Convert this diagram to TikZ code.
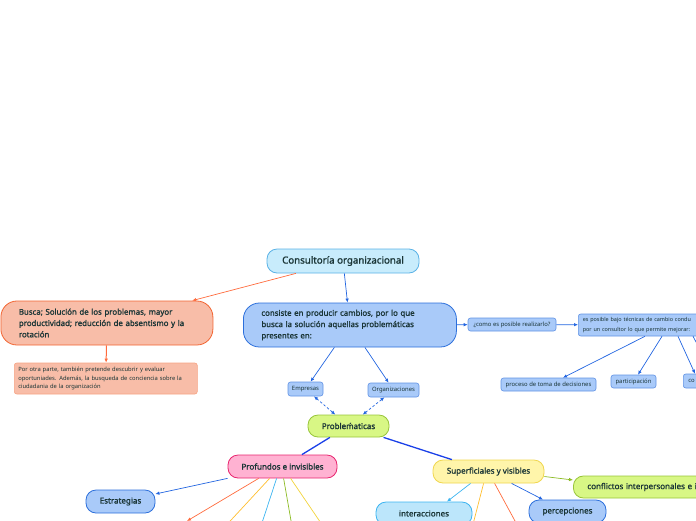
\documentclass[tikz,border=0pt]{standalone}
\usepackage{fontspec}
\setmainfont{Noto Sans}[BoldFont={Noto Sans},BoldFeatures={FakeBold=1.4}]
\usetikzlibrary{arrows.meta}

\definecolor{ink}{HTML}{1A3536}
\definecolor{titlefill}{HTML}{C8ECFC}
\definecolor{titleline}{HTML}{5AB2E6}
\definecolor{salmonfill}{HTML}{F8BDA8}
\definecolor{salmonline}{HTML}{F26532}
\definecolor{salmonlight}{HTML}{F6A484}
\definecolor{bluefill}{HTML}{A9CAF9}
\definecolor{blueline}{HTML}{2C6FDB}
\definecolor{limefill}{HTML}{D8F785}
\definecolor{limeline}{HTML}{98C53A}
\definecolor{pinkfill}{HTML}{FFB2D2}
\definecolor{pinkline}{HTML}{E8256F}
\definecolor{yellowfill}{HTML}{FFF5AA}
\definecolor{yellowline}{HTML}{F0D64E}
\definecolor{cyanfill}{HTML}{BCE6FB}
\definecolor{cyanline}{HTML}{3CB4F0}
\definecolor{orangeline}{HTML}{FF6B3D}
\definecolor{amberline}{HTML}{FFBE2E}
\definecolor{greenline}{HTML}{8CBB24}
\definecolor{goldline}{HTML}{F2D33A}
\definecolor{linkblue}{HTML}{2265E0}
\definecolor{deepblue}{HTML}{1A40E8}

\begin{document}
\begin{tikzpicture}[x=1pt,y=-1pt,>={Latex[length=4pt,width=3.5pt]},
  topic/.style={draw,line width=0.8pt,rounded corners=10pt,inner sep=0pt,text=ink,
    font=\fontsize{8}{11.3}\selectfont\bfseries},
  leaf/.style={draw=blueline!75,fill=bluefill,line width=0.6pt,rounded corners=2.5pt,
    inner sep=0pt,text=ink,font=\fontsize{5.9}{9.5}\selectfont},
  link/.style={->,line width=0.7pt,linkblue},
  twoway/.style={<->,line width=0.7pt,linkblue,dash pattern=on 2.5pt off 2pt},
  trunk/.style={line width=1.3pt,deepblue}]
  \useasboundingbox (0,0) rectangle (696,520);
  \clip (0,0) rectangle (696,520);
  % main topics
  \node[topic,fill=titlefill,draw=titleline,minimum width=152pt,minimum height=24pt,
    font=\fontsize{9.7}{11}\selectfont\bfseries] (consultoria) at (343,261) {Consultoría organizacional};
  \node[topic,fill=salmonfill,draw=salmonline,anchor=west,text width=176pt,align=left,
    inner xsep=18pt,minimum height=44pt,rounded corners=16pt,font=\fontsize{7.85}{11.3}\selectfont\bfseries] (busca) at (0.5,323)
    {Busca; Solución de los problemas, mayor\\productividad; reducción de absentismo y la\\rotación};
  \node[leaf,fill=salmonfill,draw=salmonlight,anchor=west,text width=175pt,align=left,
    inner xsep=4pt,minimum height=31pt,font=\fontsize{5.8}{8.6}\selectfont] (porotra) at (14,378.5)
    {Por otra parte, también pretende descubrir y evaluar\\oportuniades. Además, la busqueda de conciencia sobre la\\ciudadania de la organización};
  \node[topic,fill=bluefill,draw=blueline,anchor=west,text width=177pt,align=left,
    inner xsep=18pt,minimum height=44pt,rounded corners=16pt,font=\fontsize{7.85}{11.3}\selectfont\bfseries] (consiste) at (243,325)
    {consiste en producir cambios, por lo que\\busca la solución aquellas problemáticas\\presentes en:};
  % how
  \node[leaf,minimum width=88pt,minimum height=13pt] (como) at (512,324.5) {¿como es posible realizarlo?};
  \node[leaf,anchor=west,text width=160pt,align=left,inner xsep=4.5pt,minimum height=22pt,
    font=\fontsize{5.45}{9.5}\selectfont] (esposible) at (578,325)
    {es posible bajo técnicas de cambio condu\\por un consultor lo que permite mejorar:};
  \node[leaf,minimum width=95pt,minimum height=13pt] (proceso) at (548.5,384.5) {proceso de toma de decisiones};
  \node[leaf,minimum width=45pt,minimum height=13pt] (participacion) at (633.5,381.5) {participación};
  \node[leaf,anchor=west,text width=60pt,align=left,inner xsep=5pt,minimum height=14pt] (co) at (683,381) {co};
  \coordinate (offright) at (712,372);
  % where
  \node[leaf,minimum width=35pt,minimum height=14pt] (empresas) at (305.5,389) {Empresas};
  \node[leaf,minimum width=51pt,minimum height=14pt] (organizaciones) at (393.5,390) {Organizaciones};
  \node[topic,fill=limefill,draw=limeline,minimum width=81pt,minimum height=22pt] (problematicas) at (348.5,426) {Probleḿaticas};
  \node[topic,fill=pinkfill,draw=pinkline,minimum width=109pt,minimum height=23pt] (profundos) at (282.5,466.5) {Profundos e invisibles};
  \node[topic,fill=bluefill,draw=blueline,minimum width=69pt,minimum height=23pt] (estrategias) at (120.5,501.5) {Estrategias};
  \node[topic,fill=yellowfill,draw=yellowline,minimum width=111pt,minimum height=23pt] (superficiales) at (488.5,471.5) {Superficiales y visibles};
  \node[topic,fill=limefill,draw=limeline,anchor=west,text width=200pt,align=left,inner xsep=14pt,
    minimum height=22pt] (conflictos) at (573,487) {conflictos interpersonales e i};
  \node[topic,fill=cyanfill,draw=cyanline,minimum width=96pt,minimum height=23pt] (interacciones) at (424,513.5) {interacciones};
  \node[topic,fill=bluefill,draw=blueline,minimum width=77pt,minimum height=23pt] (percepciones) at (567.5,511.5) {percepciones};
  % connectors
  \draw[->,line width=0.7pt,orangeline] (consultoria) -- (busca);
  \draw[->,line width=1pt,orangeline] (busca) -- (porotra);
  \draw[link] (consultoria) -- (consiste);
  \draw[link] (consiste) -- (como);
  \draw[link] (como) -- (esposible);
  \draw[link] ([xshift=67pt]esposible.south west) -- ([xshift=14.5pt]proceso.north);
  \draw[link] ([xshift=84pt]esposible.south west) -- ([xshift=4.5pt]participacion.north);
  \draw[link] ([xshift=100pt]esposible.south west) -- ([xshift=12pt]co.north west);
  \draw[link] ([xshift=115pt]esposible.south west) -- (offright);
  \draw[link] (consiste) -- (empresas);
  \draw[link] (consiste) -- (organizaciones);
  \draw[twoway] (empresas) -- (problematicas);
  \draw[twoway] (organizaciones) -- (problematicas);
  \draw[trunk] (problematicas) -- (profundos);
  \draw[trunk] (problematicas) -- (superficiales);
  \draw[link] (profundos) -- (estrategias);
  \draw[->,line width=0.7pt,orangeline] ([xshift=31pt]profundos.south west) -- (187,521);
  \foreach \dx/\col/\ex in {42/amberline/220,49/cyanline/259,56/greenline/293,63/goldline/327}
    \draw[line width=0.7pt,\col] ([xshift=\dx pt]profundos.south west) -- (\ex,532);
  \draw[->,line width=0.7pt,cyanline] ([xshift=38pt]superficiales.south west) -- ([xshift=23pt]interacciones.north);
  \draw[line width=0.7pt,amberline] ([xshift=51pt]superficiales.south west) -- (471,532);
  \draw[line width=0.7pt,orangeline] ([xshift=62pt]superficiales.south west) -- (521,532);
  \draw[link] ([xshift=79pt]superficiales.south west) -- ([xshift=-24.5pt]percepciones.north);
  \draw[->,line width=0.7pt,greenline] ([yshift=-5pt]superficiales.east) -- ([yshift=7pt]conflictos.west);
\end{tikzpicture}
\end{document}
